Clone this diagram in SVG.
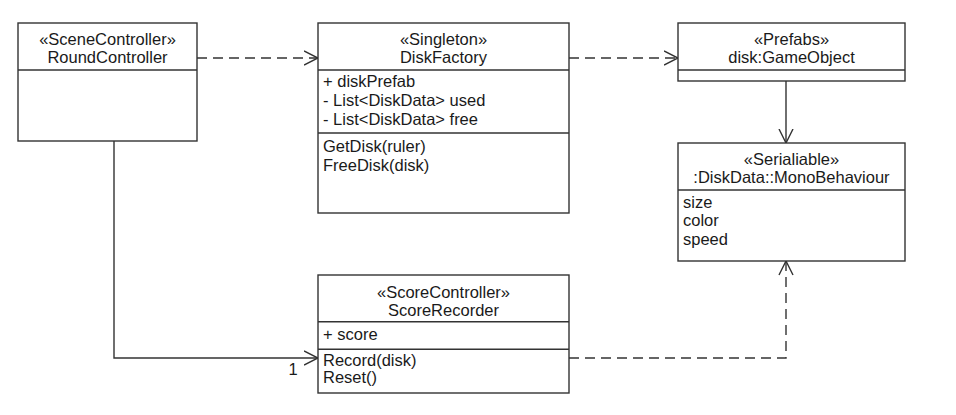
<svg xmlns="http://www.w3.org/2000/svg" width="956" height="415" viewBox="0 0 956 415">
<style>
.box{fill:#fff;stroke:#333;stroke-width:1.4}
.div{stroke:#333;stroke-width:1.4}
text{font-family:"Liberation Sans",Arial,sans-serif;font-size:16.5px;fill:#1a1a1a}
.c{text-anchor:middle}
.ln{fill:none;stroke:#333;stroke-width:1.4}
.dash{stroke-dasharray:10 6}
</style>
<defs>
<marker id="open" markerUnits="userSpaceOnUse" viewBox="0 0 15 16" refX="14.5" refY="8" markerWidth="15" markerHeight="16" orient="auto">
<path d="M0.5,1 L14.5,8 L0.5,15" fill="none" stroke="#333" stroke-width="1.4" stroke-dasharray="none"/>
</marker>
</defs>
<rect width="956" height="415" fill="#fff"/>
<g id="connectors">
<line class="ln dash" x1="197" y1="58" x2="318" y2="58" marker-end="url(#open)"/>
<line class="ln dash" x1="569" y1="58" x2="678" y2="58" marker-end="url(#open)"/>
<line class="ln" x1="786" y1="81" x2="786" y2="143" marker-end="url(#open)"/>
<polyline class="ln" points="114,141 114,358 318,358" marker-end="url(#open)"/>
<polyline class="ln dash" points="569,358 786,358 786,261" marker-end="url(#open)"/>
<text x="293" y="375" class="c">1</text>
</g>
<g id="RoundController">
<rect class="box" x="18" y="23" width="179" height="118"/>
<line class="div" x1="18" y1="70" x2="197" y2="70"/>
<text class="c" x="107.5" y="44.5">«SceneController»</text>
<text class="c" x="107.5" y="63">RoundController</text>
</g>
<g id="DiskFactory">
<rect class="box" x="318" y="23" width="251" height="190"/>
<line class="div" x1="318" y1="70" x2="569" y2="70"/>
<line class="div" x1="318" y1="133" x2="569" y2="133"/>
<text class="c" x="443.5" y="44.5">«Singleton»</text>
<text class="c" x="443.5" y="63">DiskFactory</text>
<text x="323" y="87">+ diskPrefab</text>
<text x="323" y="106">- List&lt;DiskData&gt; used</text>
<text x="323" y="125">- List&lt;DiskData&gt; free</text>
<text x="323" y="152">GetDisk(ruler)</text>
<text x="323" y="170.5">FreeDisk(disk)</text>
</g>
<g id="Prefabs">
<rect class="box" x="678" y="23" width="227" height="58"/>
<line class="div" x1="678" y1="70" x2="905" y2="70"/>
<text class="c" x="791.5" y="44.5">«Prefabs»</text>
<text class="c" x="791.5" y="63">disk:GameObject</text>
</g>
<g id="DiskData">
<rect class="box" x="678" y="143" width="227" height="118"/>
<line class="div" x1="678" y1="190" x2="905" y2="190"/>
<text class="c" x="791.5" y="164.5">«Serialiable»</text>
<text class="c" x="791.5" y="183">:DiskData::MonoBehaviour</text>
<text x="683" y="207.5">size</text>
<text x="683" y="226">color</text>
<text x="683" y="245">speed</text>
</g>
<g id="ScoreRecorder">
<rect class="box" x="318" y="275" width="251" height="118"/>
<line class="div" x1="318" y1="321.7" x2="569" y2="321.7"/>
<line class="div" x1="318" y1="349.3" x2="569" y2="349.3"/>
<text class="c" x="443.5" y="297.5">«ScoreController»</text>
<text class="c" x="443.5" y="316">ScoreRecorder</text>
<text x="323" y="340">+ score</text>
<text x="323" y="365.5">Record(disk)</text>
<text x="323" y="383">Reset()</text>
</g>
</svg>
